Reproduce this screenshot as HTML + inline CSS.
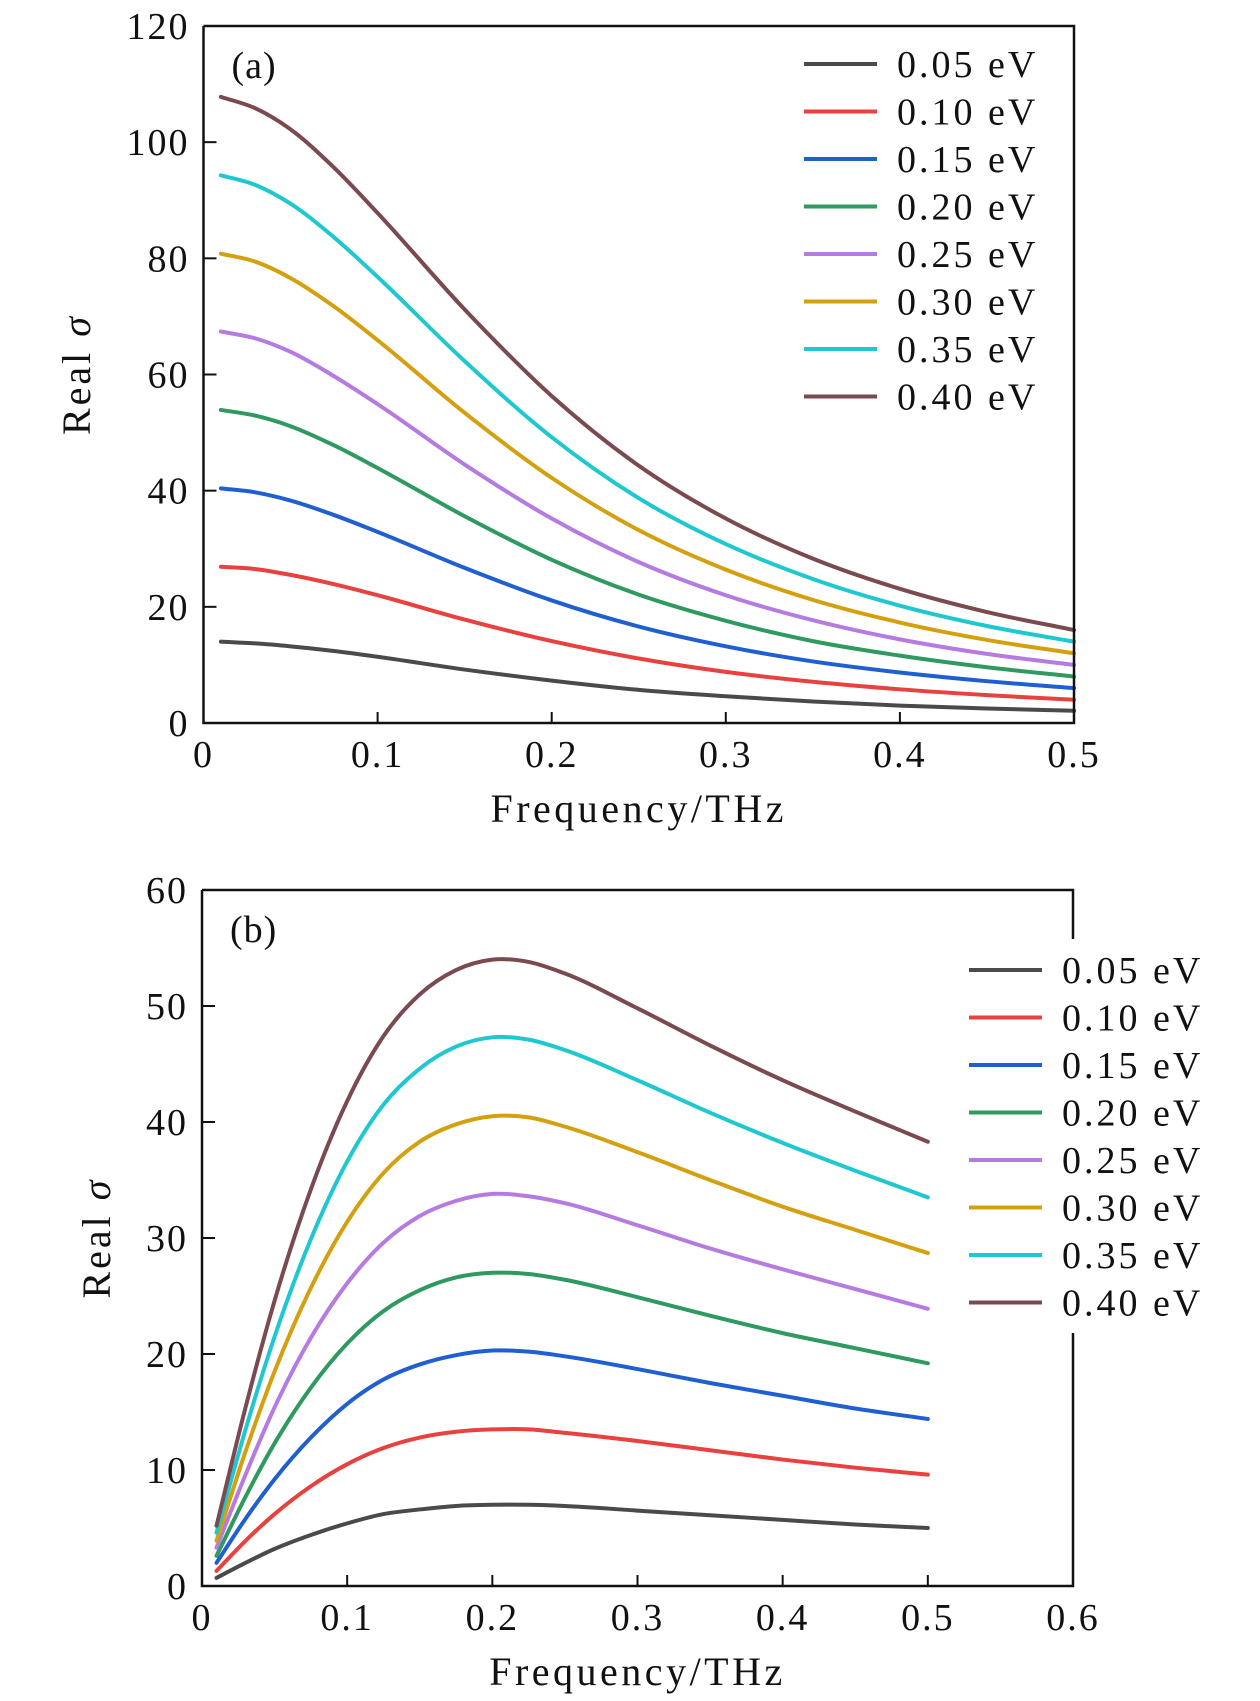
<!DOCTYPE html>
<html><head><meta charset="utf-8"><style>
body{margin:0;background:#fff}
svg{display:block}
text{font-family:"Liberation Serif",serif;fill:#111}
</style></head><body>
<svg id="svg" width="1260" height="1701" viewBox="0 0 1260 1701"></svg>
<script>
const energyLabels=["0.05 eV","0.10 eV","0.15 eV","0.20 eV","0.25 eV","0.30 eV","0.35 eV","0.40 eV"];
const colors=["#4a4a4a","#e8413f","#1f5fd0","#2e9a5f","#b57be0","#d4a010","#1fc8d0","#7a4a50"];
const xA=[0.01,0.03,0.05,0.075,0.1,0.15,0.2,0.25,0.3,0.35,0.4,0.45,0.5];
const a005=[14.0,13.7,13.2,12.4,11.4,9.2,7.3,5.7,4.6,3.7,3.0,2.5,2.1];
const a010=[26.9,26.5,25.5,23.9,22.0,17.8,14.1,11.1,8.8,7.1,5.8,4.8,4.0];
const a015=[40.4,39.7,38.3,35.8,32.9,26.7,21.1,16.6,13.2,10.6,8.7,7.2,6.0];
const a020=[53.9,52.9,51.1,47.8,43.9,35.6,28.1,22.1,17.6,14.1,11.6,9.6,8.0];
const a025=[67.4,66.2,63.9,59.7,54.9,44.5,35.2,27.7,22.0,17.7,14.4,11.9,10.0];
const a030=[80.8,79.4,76.6,71.7,65.9,53.4,42.2,33.2,26.4,21.2,17.3,14.3,12.0];
const a035=[94.3,92.6,89.4,83.6,76.8,62.3,49.2,38.7,30.8,24.8,20.2,16.7,14.0];
const a040=[107.8,105.8,102.2,95.6,87.8,71.2,56.3,44.3,35.2,28.3,23.1,19.1,16.0];
const xB=[0.01,0.03,0.05,0.075,0.1,0.125,0.15,0.175,0.2,0.225,0.25,0.3,0.35,0.4,0.45,0.5];
const b005=[0.7,2.0,3.2,4.4,5.4,6.2,6.6,6.9,7.0,7.0,6.9,6.5,6.1,5.7,5.3,5.0];
const b010=[1.3,3.9,6.2,8.6,10.5,11.9,12.8,13.3,13.5,13.5,13.2,12.5,11.7,10.9,10.2,9.6];
const b015=[2.0,5.8,9.2,12.8,15.7,17.8,19.1,19.9,20.3,20.2,19.8,18.7,17.5,16.4,15.3,14.4];
const b020=[2.6,7.7,12.3,17.1,20.9,23.7,25.5,26.6,27,26.9,26.4,24.9,23.3,21.8,20.5,19.2];
const b025=[3.3,9.6,15.4,21.4,26.1,29.6,31.9,33.2,33.8,33.6,33,31.1,29.1,27.3,25.6,23.9];
const b030=[3.9,11.6,18.5,25.7,31.4,35.6,38.3,39.8,40.5,40.4,39.6,37.4,35,32.7,30.7,28.7];
const b035=[4.6,13.5,21.5,29.9,36.6,41.5,44.6,46.5,47.3,47.1,46.2,43.6,40.8,38.2,35.8,33.5];
const b040=[5.2,15.4,24.6,34.2,41.8,47.4,51.0,53.1,54.0,53.8,52.8,49.8,46.6,43.6,40.9,38.3];
const xTicksA=[0,0.1,0.2,0.3,0.4,0.5];
const yTicksA=[0,20,40,60,80,100,120];
const xTicksB=[0,0.1,0.2,0.3,0.4,0.5,0.6];
const yTicksB=[0,10,20,30,40,50,60];

const NS="http://www.w3.org/2000/svg";
const svg=document.getElementById('svg');
function mk(tag,attrs,parent){const e=document.createElementNS(NS,tag);for(const k in attrs)e.setAttribute(k,attrs[k]);(parent||svg).appendChild(e);return e;}
function smooth(pts){
  const n=pts.length,m=[];
  for(let i=0;i<n;i++){
    if(i===0)m.push((pts[1][1]-pts[0][1])/(pts[1][0]-pts[0][0]));
    else if(i===n-1)m.push((pts[n-1][1]-pts[n-2][1])/(pts[n-1][0]-pts[n-2][0]));
    else{const d0=(pts[i][1]-pts[i-1][1])/(pts[i][0]-pts[i-1][0]),d1=(pts[i+1][1]-pts[i][1])/(pts[i+1][0]-pts[i][0]);
      const h0=pts[i][0]-pts[i-1][0],h1=pts[i+1][0]-pts[i][0];m.push((d0*h1+d1*h0)/(h0+h1));}
  }
  let d="M"+pts[0][0]+","+pts[0][1];
  for(let i=0;i<n-1;i++){const h=pts[i+1][0]-pts[i][0];
    d+=" C"+(pts[i][0]+h/3)+","+(pts[i][1]+m[i]*h/3)+" "+(pts[i+1][0]-h/3)+","+(pts[i+1][1]-m[i+1]*h/3)+" "+pts[i+1][0]+","+pts[i+1][1];}
  return d;
}

function panel(cfg){
  const g=mk('g',{});
  
  
  const {L,R,T,B,xmax,ymax}=cfg;
  const sx=v=>L+(R-L)*v/xmax, sy=v=>B-(B-T)*v/ymax;
  cfg.series.forEach((s,i)=>{
    const p=mk('path',{d:smooth(cfg.xs.map((x,j)=>[sx(x),sy(s[j])])),fill:'none',stroke:colors[i],'stroke-width':4,'stroke-linecap':'round'},g);
    
    
  });
  let fd="M"+L+","+T+" L"+L+","+B+" L"+R+","+B+" L"+R+","+(cfg.gap?cfg.gap[1]:T)+(cfg.gap?" M"+R+","+cfg.gap[0]+" L"+R+","+T+" L"+L+","+T:" L"+L+","+T);
  const fr=mk('path',{d:fd,fill:'none',stroke:'#111','stroke-width':2.5},g);
  
  
  cfg.xt.forEach(v=>{
    mk('line',{x1:sx(v),x2:sx(v),y1:B,y2:B-11,stroke:'#111','stroke-width':2},g);
    const t=mk('text',{x:sx(v),y:B+44,'text-anchor':'middle','font-size':38,'letter-spacing':2},g);t.textContent=String(v);
    
    
  });
  cfg.yt.forEach(v=>{
    mk('line',{x1:L,x2:L+13,y1:sy(v),y2:sy(v),stroke:'#111','stroke-width':2},g);
    const t=mk('text',{x:L-14,y:sy(v)+13,'text-anchor':'end','font-size':38,'letter-spacing':2},g);t.textContent=String(v);
    
    
  });
  const pl=mk('text',{x:L+28,y:T+52,'font-size':38,'letter-spacing':1},g);pl.textContent=cfg.tag;
  
  
  const xl=mk('text',{x:(L+R)/2,y:cfg.xly,'text-anchor':'middle','font-size':40,'letter-spacing':3.5},g);xl.textContent="Frequency/THz";
  
  
  const yl=mk('text',{x:0,y:0,'text-anchor':'middle','font-size':40,'letter-spacing':3,transform:"translate("+cfg.ylx+","+((T+B)/2)+") rotate(-90)"},g);
  yl.innerHTML='Real <tspan font-style="italic">σ</tspan>';
  
  
  const lg=mk('g',{},g);
  
  
  energyLabels.forEach((lab,i)=>{
    const y=cfg.legY+i*47.5;
    const e=mk('g',{},lg);
    
    
    mk('line',{x1:cfg.legX,x2:cfg.legX+73,y1:y,y2:y,stroke:colors[i],'stroke-width':4},e);
    const t=mk('text',{x:cfg.legX+93,y:y+13,'font-size':38,'letter-spacing':3},e);t.textContent=lab;
  });
}
panel({name:'chart-a',L:203.5,R:1074,T:26,B:723,xmax:0.5,ymax:120,xs:xA,series:[a005,a010,a015,a020,a025,a030,a035,a040],xt:xTicksA,yt:yTicksA,tag:'(a)',xly:822,ylx:90,legX:804,legY:64});
panel({name:'chart-b',L:202,R:1073,T:890,B:1586,xmax:0.6,ymax:60,xs:xB,series:[b005,b010,b015,b020,b025,b030,b035,b040],xt:xTicksB,yt:yTicksB,tag:'(b)',xly:1685,ylx:110,legX:969,legY:970,gap:[939,1333]});
</script>
</body></html>
